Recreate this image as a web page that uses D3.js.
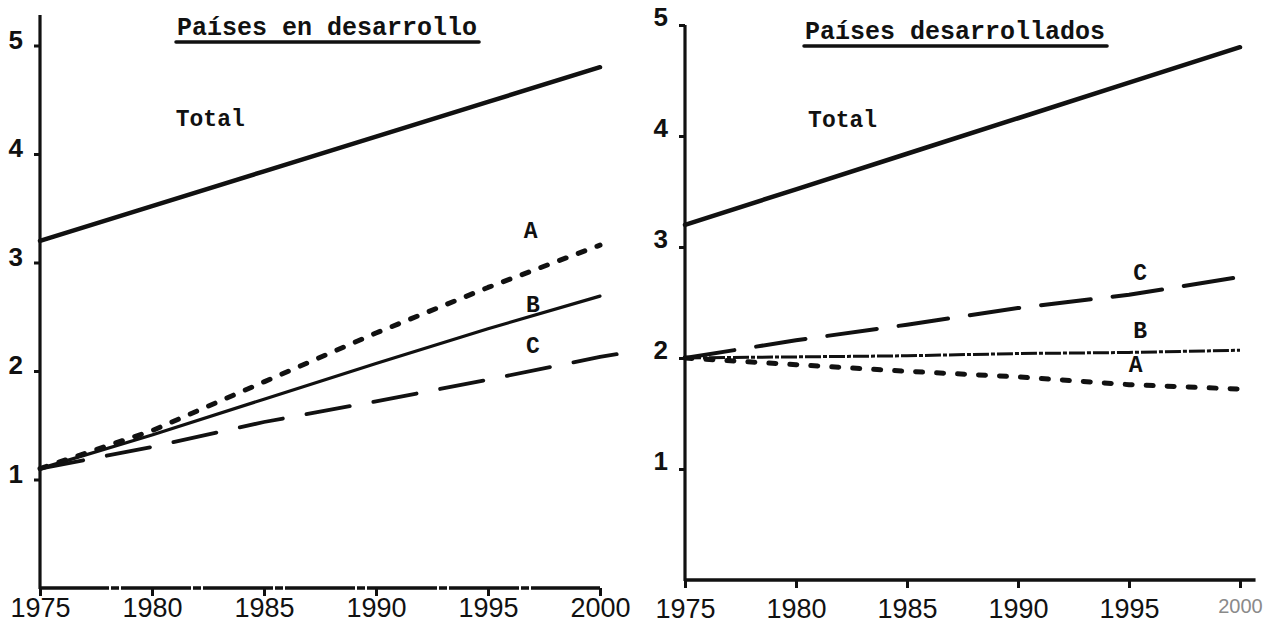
<!DOCTYPE html>
<html>
<head>
<meta charset="utf-8">
<script src="https://cdn.jsdelivr.net/npm/d3@7"></script>
<style>
  html, body { margin: 0; padding: 0; background: #fff; }
  svg { display: block; }
</style>
</head>
<body>
<svg id="chart" width="1263" height="629"></svg>
<script>
// ---------------- data ----------------
const years = [1975, 1980, 1985, 1990, 1995, 2000];
const yTicks = [1, 2, 3, 4, 5];
const xTickLabels = ["1975", "1980", "1985", "1990", "1995", "2000"];
const yTickLabels = ["1", "2", "3", "4", "5"];

// Países en desarrollo
const devTitle = "Países en desarrollo";
const devTotal = [3.2, 3.52, 3.84, 4.16, 4.48, 4.8];
const devA = [1.1, 1.45, 1.9, 2.35, 2.77, 3.16];
const devB = [1.1, 1.41, 1.74, 2.07, 2.39, 2.69];
const devCYears = [1975, 1980, 1985, 1990, 1995, 2000, 2001.8];
const devC = [1.1, 1.3, 1.53, 1.72, 1.92, 2.13, 2.19];

// Países desarrollados
const dvdTitle = "Países desarrollados";
const dvdTotal = [3.2, 3.52, 3.84, 4.16, 4.48, 4.8];
const dvdA = [2.0, 1.94, 1.88, 1.83, 1.76, 1.72];
const dvdB = [2.0, 2.01, 2.02, 2.04, 2.05, 2.07];
const dvdCYears = [1975, 1980, 1985, 1990, 1995, 2000, 2000.6];
const dvdC = [2.0, 2.16, 2.3, 2.45, 2.57, 2.73, 2.75];

// label anchors (year, value)
const devLabels = [["Total", 1982.6, 4.26], ["A", 1996.9, 3.23], ["B", 1997.0, 2.54], ["C", 1997.0, 2.17]];
const dvdLabels = [["Total", 1982.1, 4.08], ["C", 1995.5, 2.70], ["B", 1995.5, 2.18], ["A", 1995.3, 1.87]];

// ---------------- drawing ----------------
const svg = d3.select("#chart");
const INK = "#111";

function panel(cfg) {
  const x = d3.scaleLinear().domain([1975, 2000]).range(cfg.xRange);
  const y = d3.scaleLinear().domain([0, 5]).range(cfg.yRange);
  const g = svg.append("g");

  // axis lines
  g.append("line")
    .attr("x1", x(1975)).attr("x2", x(1975))
    .attr("y1", y(cfg.yTop)).attr("y2", y(0) + 1)
    .attr("stroke", INK).attr("stroke-width", 3.2);
  g.append("line")
    .attr("x1", x(1975) - 1).attr("x2", x(cfg.xEnd))
    .attr("y1", y(0)).attr("y2", y(0))
    .attr("stroke", INK).attr("stroke-width", 3.4)
    .attr("stroke-dasharray", cfg.xAxisDash);

  // y axis
  const ya = d3.axisLeft(y).tickValues(yTicks)
    .tickFormat((d, i) => yTickLabels[i])
    .tickSize(6).tickPadding(11);
  const yg = g.append("g").attr("transform", `translate(${x(1975)},0)`).call(ya);
  yg.select(".domain").remove();
  yg.selectAll(".tick line").attr("stroke", INK).attr("stroke-width", 3);
  yg.selectAll(".tick text")
    .attr("fill", INK)
    .attr("font-family", "'Liberation Sans', Arial, sans-serif")
    .attr("font-weight", "bold")
    .attr("font-size", 26)
    .attr("dy", cfg.yLabelDy);

  // x axis
  const xa = d3.axisBottom(x).tickValues(years)
    .tickFormat((d, i) => xTickLabels[i])
    .tickSize(8).tickPadding(cfg.xPad);
  const xg = g.append("g").attr("transform", `translate(0,${y(0)})`).call(xa);
  xg.select(".domain").remove();
  xg.selectAll(".tick line").attr("stroke", INK).attr("stroke-width", 3);
  xg.selectAll(".tick text")
    .attr("fill", (d) => (cfg.fadeLast && d === 2000) ? "#8a8a8a" : INK)
    .attr("font-family", "'Liberation Sans', Arial, sans-serif")
    .attr("font-size", (d) => (cfg.fadeLast && d === 2000) ? 20 : 27)
    .attr("text-anchor", "middle");

  // lines
  const line = d3.line().x(d => x(d[0])).y(d => y(d[1]));
  cfg.series.forEach(s => {
    const pts = s.xs.map((yr, i) => [yr, s.vals[i]]);
    g.append("path")
      .attr("d", line(pts))
      .attr("fill", "none")
      .attr("stroke", INK)
      .attr("stroke-width", s.w)
      .attr("stroke-linecap", s.cap || "round")
      .attr("stroke-linejoin", "round")
      .attr("stroke-dasharray", s.dash || null);
  });

  // series labels
  cfg.labels.forEach(l => {
    g.append("text")
      .attr("x", x(l[1])).attr("y", y(l[2]))
      .attr("text-anchor", "middle")
      .attr("font-family", "'Liberation Mono', 'Courier New', monospace")
      .attr("font-weight", "bold")
      .attr("font-size", l[0] === "Total" ? 23 : 23)
      .attr("fill", INK)
      .text(l[0]);
  });

  // title with underline
  const t = g.append("text")
    .attr("x", cfg.titleX).attr("y", cfg.titleY)
    .attr("font-family", "'Liberation Mono', 'Courier New', monospace")
    .attr("font-weight", "bold")
    .attr("font-size", 25)
    .attr("fill", INK)
    .text(cfg.title);
  const len = t.node().getComputedTextLength();
  g.append("line")
    .attr("x1", cfg.titleX - 1).attr("x2", cfg.titleX + len + 2)
    .attr("y1", cfg.titleY + 7).attr("y2", cfg.titleY + 7)
    .attr("stroke", INK).attr("stroke-width", 3.5).attr("stroke-linecap", "round");
}

panel({
  xRange: [40, 600], yRange: [588, 45.5], yTop: 5.28, xEnd: 2000,
  xAxisDash: "70,2,8,2", yLabelDy: "0.1em", xPad: 2, fadeLast: false,
  title: devTitle, titleX: 177, titleY: 35,
  series: [
    { xs: years, vals: devTotal, w: 4.5 },
    { xs: years, vals: devA, w: 5, dash: "7,13" },
    { xs: years, vals: devB, w: 3.2 },
    { xs: devCYears, vals: devC, w: 3.8, dash: "44,24" }
  ],
  labels: devLabels
});

panel({
  xRange: [685, 1240], yRange: [580, 25], yTop: 5.0, xEnd: 2000.7,
  xAxisDash: null, yLabelDy: "0em", xPad: 11, fadeLast: true,
  title: dvdTitle, titleX: 805, titleY: 39,
  series: [
    { xs: years, vals: dvdTotal, w: 4.5 },
    { xs: dvdCYears, vals: dvdC, w: 4, dash: "50,22" },
    { xs: years, vals: dvdB, w: 3, cap: "butt", dash: "16,2,4,2" },
    { xs: years, vals: dvdA, w: 5, dash: "7,14" }
  ],
  labels: dvdLabels
});
</script>
</body>
</html>
